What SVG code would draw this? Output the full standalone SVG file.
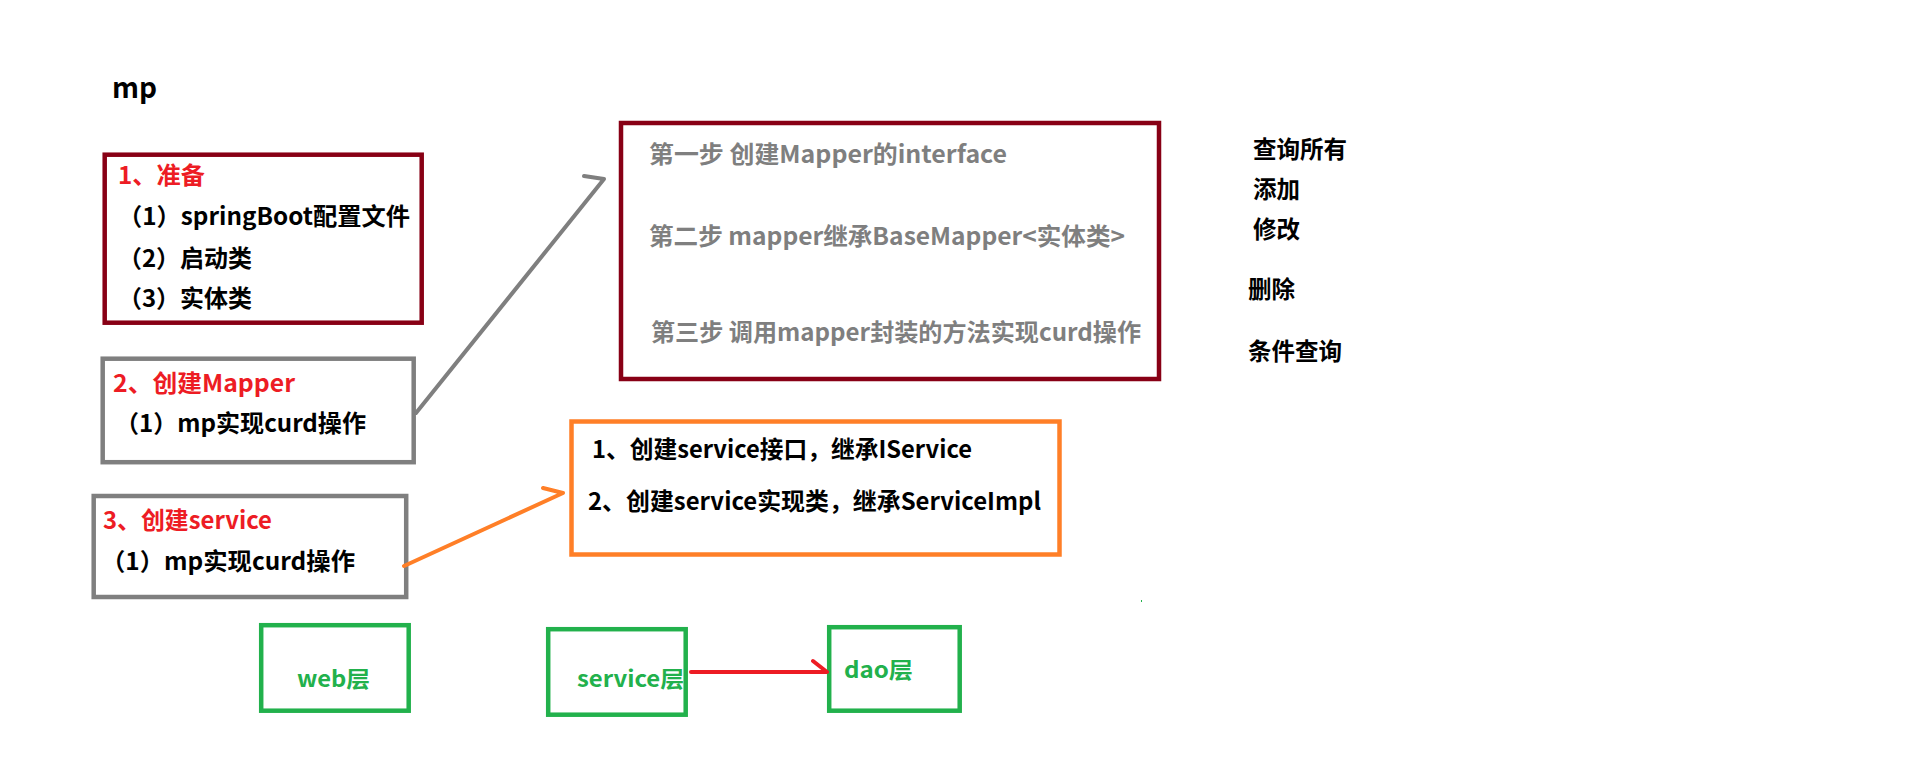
<svg xmlns="http://www.w3.org/2000/svg" width="1908" height="782" viewBox="0 0 1908 782">
<style>
text{font-family:"Noto Sans CJK SC","Noto Sans",sans-serif;font-weight:bold;font-size:24px;fill:#000}
.red{fill:#ED1C24}
.gray{fill:#7F7F7F}
.green{fill:#22B14C;font-size:22px}
.box{fill:none;stroke-width:4.5}
.dr{stroke:#880015}
.gr{stroke:#7F7F7F}
.or{stroke:#FF7F27}
.gn{stroke:#22B14C}
.ln{fill:none;stroke-width:4;stroke-linecap:round;stroke-linejoin:round}
</style>
<rect width="1908" height="782" fill="#fff"/>
<g id="title"><text x="112" y="98" style="font-size:29px" textLength="45" lengthAdjust="spacingAndGlyphs">mp</text></g>
<g id="prepare">
<rect class="box dr" x="104.7" y="154.7" width="317" height="168"/>
<text class="red" x="118" y="184" textLength="87" lengthAdjust="spacingAndGlyphs">1、准备</text>
<text x="118" y="225" textLength="292" lengthAdjust="spacingAndGlyphs">（1）springBoot配置文件</text>
<text x="118" y="267" textLength="134" lengthAdjust="spacingAndGlyphs">（2）启动类</text>
<text x="118" y="307" textLength="134" lengthAdjust="spacingAndGlyphs">（3）实体类</text>
</g>
<g id="mapper">
<rect class="box gr" x="102.7" y="358.7" width="311" height="103.5"/>
<text class="red" x="113" y="392" textLength="182" lengthAdjust="spacingAndGlyphs">2、创建Mapper</text>
<text x="115" y="432" textLength="251" lengthAdjust="spacingAndGlyphs">（1）mp实现curd操作</text>
</g>
<g id="service">
<rect class="box gr" x="93.7" y="496" width="312.5" height="101"/>
<text class="red" x="103" y="529" textLength="169" lengthAdjust="spacingAndGlyphs">3、创建service</text>
<text x="101" y="570" textLength="254" lengthAdjust="spacingAndGlyphs">（1）mp实现curd操作</text>
</g>
<g id="steps">
<rect class="box dr" x="621" y="123" width="538" height="256"/>
<text class="gray" x="649" y="163" textLength="358" lengthAdjust="spacingAndGlyphs">第一步  创建Mapper的interface</text>
<text class="gray" x="649" y="245" textLength="476" lengthAdjust="spacingAndGlyphs">第二步 mapper继承BaseMapper&lt;实体类&gt;</text>
<text class="gray" x="651" y="341" textLength="490" lengthAdjust="spacingAndGlyphs">第三步 调用mapper封装的方法实现curd操作</text>
</g>
<g id="operations">
<text x="1253" y="158" textLength="94" lengthAdjust="spacingAndGlyphs">查询所有</text>
<text x="1253" y="198" textLength="47" lengthAdjust="spacingAndGlyphs">添加</text>
<text x="1253" y="238" textLength="47" lengthAdjust="spacingAndGlyphs">修改</text>
<text x="1248" y="298" textLength="47" lengthAdjust="spacingAndGlyphs">删除</text>
<text x="1248" y="360" textLength="94" lengthAdjust="spacingAndGlyphs">条件查询</text>
</g>
<g id="service-steps">
<rect class="box or" x="571.5" y="421.5" width="488" height="133"/>
<text x="592" y="458" textLength="380" lengthAdjust="spacingAndGlyphs">1、创建service接口，继承IService</text>
<text x="588" y="510" textLength="453" lengthAdjust="spacingAndGlyphs">2、创建service实现类，继承ServiceImpl</text>
</g>
<g id="web-layer">
<rect class="box gn" x="261.2" y="625.2" width="147.5" height="85.5"/>
<text class="green" x="297" y="687" textLength="73" lengthAdjust="spacingAndGlyphs">web层</text>
</g>
<g id="service-layer">
<rect class="box gn" x="548.2" y="629.2" width="137.5" height="85.5"/>
<text class="green" x="577" y="687" textLength="107" lengthAdjust="spacingAndGlyphs">service层</text>
</g>
<g id="dao-layer">
<rect class="box gn" x="829.2" y="627.2" width="130.5" height="83.5"/>
<text class="green" x="844" y="678" textLength="69" lengthAdjust="spacingAndGlyphs">dao层</text>
</g>
<g id="connectors">
<polyline class="ln" stroke="#7F7F7F" points="584,176 604,179 416,413"/>
<polyline class="ln" stroke="#FF7F27" points="543,488 563,493 404,566"/>
<polyline class="ln" stroke="#ED1C24" points="813,661 827,672 691,672"/>
</g>
<rect x="1141" y="600" width="1" height="2" fill="#22B14C"/>
</svg>
